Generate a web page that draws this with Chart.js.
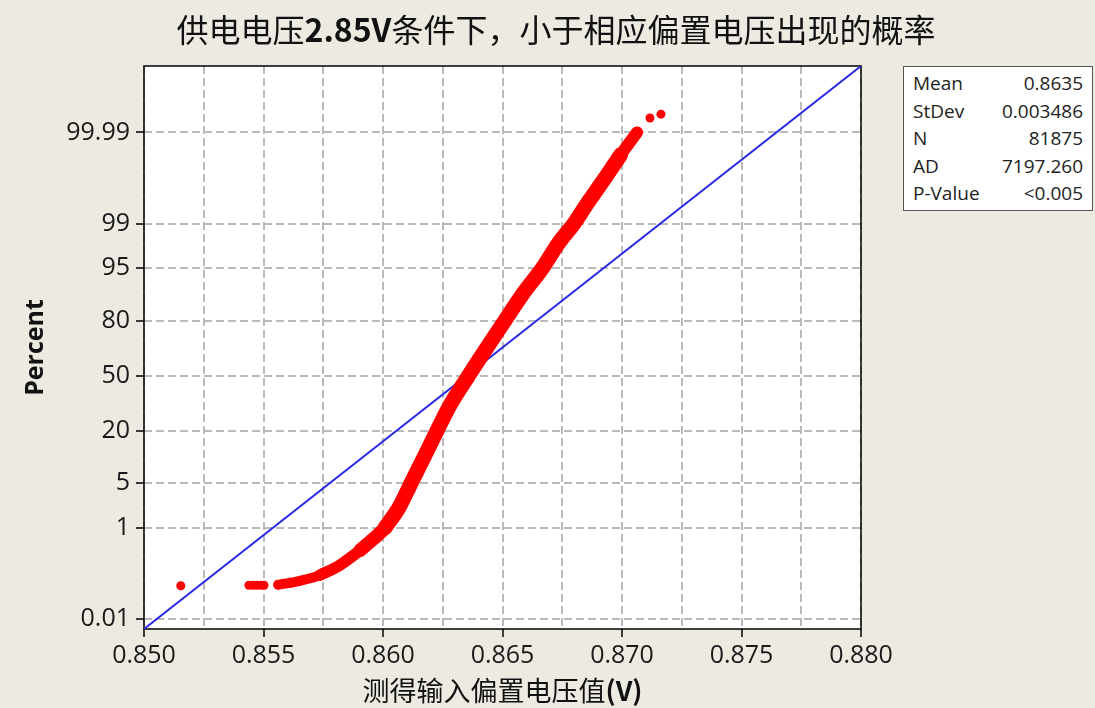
<!DOCTYPE html>
<html lang="zh-CN">
<head>
<meta charset="utf-8">
<title>供电电压2.85V条件下，小于相应偏置电压出现的概率</title>
<script src="https://cdn.jsdelivr.net/npm/chart.js@4.4.1/dist/chart.umd.min.js"></script>
<style>
  html, body { margin: 0; padding: 0; background: #edeae2; }
  #wrap { position: relative; width: 1095px; height: 708px; overflow: hidden; }
  #plot { position: absolute; left: 0; top: 0; }
  .cjk { position: absolute; white-space: nowrap; text-align: center; color: #111;
         font-family: "Noto Sans CJK SC", "Noto Sans", sans-serif; }
  .cjk b { font-weight: 700; }
  #title { left: 0; width: 1112px; top: 5px; font-size: 32px; line-height: 46px; }
  #xtitle { left: 0; width: 1005px; top: 671px; font-size: 27px; line-height: 38px; }
  #stats { position: absolute; left: 903px; top: 66px; width: 190px; height: 145px;
           background: #fff; border: 1px solid #555; box-sizing: border-box;
           padding: 3px 9px 0 9px; font-family: "Open Sans", sans-serif; font-size: 19px; color: #222; }
  #stats table { width: 100%; border-collapse: collapse; }
  #stats td { padding: 0; line-height: 27.6px; }
  #stats td.v { text-align: right; }
</style>
</head>
<body>
<div id="wrap">
  <canvas id="plot" width="1095" height="708"></canvas>
  <div id="title" class="cjk">供电电压<b>2.85V</b>条件下，小于相应偏置电压出现的概率</div>
  <div id="xtitle" class="cjk">测得输入偏置电压值<b>(V)</b></div>
  <div id="stats"><table id="statsTable"></table></div>
</div>
<script>
// x axis: grid every 0.0025, labels every 0.005
const xGridValues = [0.850, 0.8525, 0.855, 0.8575, 0.860, 0.8625, 0.865, 0.8675, 0.870, 0.8725, 0.875, 0.8775, 0.880];
const xTickLabels = ['0.850', '0.855', '0.860', '0.865', '0.870', '0.875', '0.880'];

// y axis: normal probability scale (percent)
const yTickPct = [0.01, 1, 5, 20, 50, 80, 95, 99, 99.99];
const yTickLabels = ['0.01', '1', '5', '20', '50', '80', '95', '99', '99.99'];

// red points
const bandX = [0.85561, 0.85590, 0.85653, 0.85736, 0.85820, 0.85904, 0.85954, 0.86008, 0.86067, 0.86117,
  0.86172, 0.86226, 0.86276, 0.86358, 0.86510, 0.86588, 0.86667, 0.86736, 0.86799, 0.86858,
  0.86929, 0.86994, 0.87063];
const bandPct = [0.070, 0.074, 0.086, 0.115, 0.19, 0.38, 0.60, 1.0, 2.2, 5,
  10.7, 20, 31.6, 50, 80, 89.7, 95, 97.9, 99, 99.60,
  99.874, 99.963, 99.99];
const dotX = [0.85154, 0.85439, 0.85456, 0.85473, 0.85490, 0.85502, 0.85561, 0.87117, 0.87163];
const dotPct = [0.066, 0.068, 0.068, 0.068, 0.068, 0.068, 0.070, 99.9959, 99.9968];

// fitted normal line end points (corner to corner)
const fitX = [0.850, 0.880];
const fitPct = [0.0054, 99.99989];

const statLabels = ['Mean', 'StDev', 'N', 'AD', 'P-Value'];
const statValues = ['0.8635', '0.003486', '81875', '7197.260', '<0.005'];

// inverse normal cdf (Acklam)
function probit(p) {
  const a = [-39.69683028665376, 220.9460984245205, -275.9285104469687, 138.3577518672690, -30.66479806614716, 2.506628277459239];
  const b = [-54.47609879822406, 161.5858368580409, -155.6989798598866, 66.80131188771972, -13.28068155288572];
  const c = [-0.007784894002430293, -0.3223964580411365, -2.400758277161838, -2.549732539343734, 4.374664141464968, 2.938163982698783];
  const d = [0.007784695709041462, 0.3224671290700398, 2.445134137142996, 3.754408661907416];
  const pl = 0.02425;
  if (p < pl) {
    const q = Math.sqrt(-2 * Math.log(p));
    return (((((c[0] * q + c[1]) * q + c[2]) * q + c[3]) * q + c[4]) * q + c[5]) / ((((d[0] * q + d[1]) * q + d[2]) * q + d[3]) * q + 1);
  }
  if (p > 1 - pl) {
    const q = Math.sqrt(-2 * Math.log(1 - p));
    return -(((((c[0] * q + c[1]) * q + c[2]) * q + c[3]) * q + c[4]) * q + c[5]) / ((((d[0] * q + d[1]) * q + d[2]) * q + d[3]) * q + 1);
  }
  const q = p - 0.5;
  const r = q * q;
  return (((((a[0] * r + a[1]) * r + a[2]) * r + a[3]) * r + a[4]) * r + a[5]) * q / (((((b[0] * r + b[1]) * r + b[2]) * r + b[3]) * r + b[4]) * r + 1);
}

const toPoints = (xs, pcts) => xs.map((x, i) => ({ x, y: probit(pcts[i] / 100) }));

document.getElementById('statsTable').innerHTML = statLabels
  .map((l, i) => `<tr><td>${l}</td><td class="v">${statValues[i]}</td></tr>`).join('');

const tickFont = { family: '"Open Sans", sans-serif', size: 25 };

const plotFrame = {
  id: 'plotFrame',
  beforeDraw(chart) {
    const { ctx, chartArea: a } = chart;
    ctx.save();
    ctx.fillStyle = '#ffffff';
    ctx.fillRect(a.left, a.top, a.right - a.left, a.bottom - a.top);
    ctx.restore();
  },
  beforeDatasetsDraw(chart) {
    const { ctx, chartArea: a } = chart;
    ctx.save();
    ctx.strokeStyle = '#000';
    ctx.lineWidth = 1.5;
    ctx.strokeRect(a.left, a.top, a.right - a.left, a.bottom - a.top);
    ctx.restore();
  },
};

// the red band is drawn as thick strokes through the read points:
// thinner in the lower tail and at the top end, wider in the body
function band(from, to, width) {
  return {
    data: toPoints(bandX.slice(from, to), bandPct.slice(from, to)),
    showLine: true,
    borderColor: '#ff0000',
    borderWidth: width,
    borderCapStyle: 'round',
    borderJoinStyle: 'round',
    cubicInterpolationMode: 'monotone',
    pointRadius: 0,
  };
}

new Chart(document.getElementById('plot'), {
  type: 'scatter',
  data: {
    datasets: [
      band(0, 6, 10),
      band(3, 8, 11.5),
      band(5, 10, 13.5),
      band(7, 22, 15),
      band(19, 23, 12),
      {
        data: toPoints(dotX, dotPct),
        pointRadius: 4.5,
        pointBackgroundColor: '#ff0000',
        pointBorderWidth: 0,
      },
      {
        data: toPoints(fitX, fitPct),
        showLine: true,
        borderColor: '#2a2ae6',
        borderWidth: 2,
        pointRadius: 0,
      },
    ],
  },
  options: {
    responsive: false,
    animation: false,
    devicePixelRatio: 1,
    layout: { padding: { left: 0, top: 66, right: 234, bottom: 0 } },
    plugins: { legend: { display: false }, title: { display: false }, tooltip: { enabled: false } },
    scales: {
      x: {
        type: 'linear',
        min: 0.850,
        max: 0.880,
        afterBuildTicks: (scale) => { scale.ticks = xGridValues.map((v) => ({ value: v })); },
        afterFit: (scale) => { scale.height = 79; },
        ticks: {
          autoSkip: false,
          maxRotation: 0,
          padding: 4,
          color: '#1a1a1a',
          font: tickFont,
          callback: (v, i) => (i % 2 === 0 ? xTickLabels[i / 2] : ''),
        },
        grid: {
          color: '#bababa',
          lineWidth: 2,
          tickLength: 8,
          tickWidth: 1.5,
          tickColor: (c) => (c.index % 2 === 0 ? '#000' : 'rgba(0,0,0,0)'),
        },
        border: { display: false, dash: [8, 4] },
      },
      y: {
        type: 'linear',
        min: probit(fitPct[0] / 100),
        max: probit(fitPct[1] / 100),
        afterBuildTicks: (scale) => { scale.ticks = yTickPct.map((p) => ({ value: probit(p / 100) })); },
        afterFit: (scale) => { scale.width = 144; },
        ticks: {
          autoSkip: false,
          padding: 6,
          color: '#1a1a1a',
          font: tickFont,
          callback: (v, i) => yTickLabels[i],
        },
        grid: {
          color: '#bababa',
          lineWidth: 2,
          tickLength: 8,
          tickWidth: 1.5,
          tickColor: '#000',
        },
        border: { display: false, dash: [8, 4] },
        title: {
          display: true,
          text: 'Percent',
          color: '#111',
          font: { family: '"Open Sans", sans-serif', size: 25, weight: 'bold' },
          padding: { top: 21, bottom: 0 },
        },
      },
    },
  },
  plugins: [plotFrame],
});
</script>
</body>
</html>
